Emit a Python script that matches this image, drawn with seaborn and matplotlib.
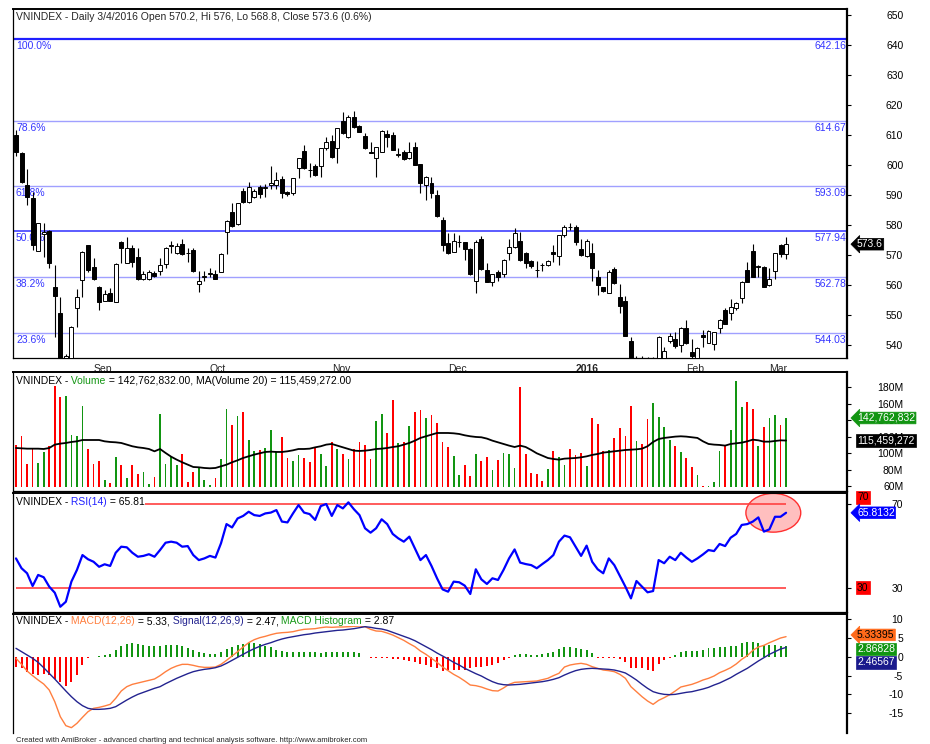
import numpy as np
import pandas as pd
import seaborn as sns
import matplotlib.pyplot as plt
from matplotlib.patches import Ellipse

# ---------------- data ----------------
holidays = ['2015-09-02', '2016-01-01', '2016-02-05', '2016-02-08', '2016-02-09',
            '2016-02-10', '2016-02-11', '2016-02-12']
dates = pd.bdate_range('2015-08-12', '2016-03-04')
dates = dates[~dates.isin(pd.to_datetime(holidays))]

opens = [610.0, 603.9, 593.3, 588.9, 571.4, 577.0, 578.1, 559.4, 550.8, 529.0,
         533.0, 552.2, 561.7, 573.3, 565.9, 559.4, 554.8, 557.2, 554.4, 574.2,
         567.4, 572.4, 569.4, 562.1, 562.0, 564.1, 564.8, 567.0, 573.0, 570.6,
         573.7, 570.8, 571.7, 560.2, 562.6, 563.7, 563.6, 564.4, 577.8, 584.2,
         580.2, 591.3, 587.8, 589.4, 592.6, 592.2, 593.5, 593.3, 595.3, 591.0,
         590.6, 598.9, 604.8, 598.5, 599.8, 599.7, 605.8, 608.1, 605.6, 614.8,
         609.4, 615.9, 613.0, 609.7, 604.3, 602.2, 604.4, 610.3, 610.0, 603.4,
         604.4, 602.2, 606.1, 600.2, 593.3, 594.0, 590.0, 581.7, 573.9, 571.1,
         574.3, 574.2, 572.0, 561.3, 575.2, 565.0, 561.1, 564.4, 563.6, 570.6,
         572.8, 574.8, 570.8, 568.1, 565.1, 566.8, 566.7, 571.1, 569.7, 576.7,
         579.5, 579.2, 571.9, 569.7, 570.8, 562.6, 559.2, 557.4, 565.2, 556.1,
         554.7, 541.5, 531.0, 534.0, 530.0, 526.0, 530.0, 535.0, 541.3, 541.9,
         540.0, 545.6, 537.8, 535.5, 543.3, 540.8, 540.2, 545.8, 551.7, 550.8,
         552.2, 555.6, 565.0, 571.4, 565.9, 566.1, 560.0, 564.8, 573.3, 570.2]
highs = [611.7, 604.5, 598.6, 591.1, 580.8, 580.6, 578.5, 566.7, 556.1, 537.0,
         546.3, 558.6, 571.3, 573.5, 568.9, 559.7, 558.3, 558.9, 567.2, 574.8,
         575.9, 573.3, 572.2, 564.7, 565.0, 564.8, 568.9, 572.8, 574.8, 573.9,
         575.2, 572.2, 572.2, 564.8, 564.8, 565.6, 565.0, 570.6, 581.7, 587.2,
         587.4, 592.2, 594.4, 592.0, 593.5, 593.7, 599.8, 597.8, 596.3, 591.5,
         595.8, 602.2, 606.7, 600.6, 600.5, 605.8, 609.4, 610.0, 612.4, 617.8,
         616.7, 618.0, 613.4, 610.8, 607.8, 606.0, 611.7, 611.7, 611.1, 605.6,
         605.0, 607.8, 607.8, 600.2, 596.5, 596.0, 591.7, 582.8, 577.4, 577.4,
         576.6, 574.5, 572.2, 575.0, 576.3, 567.4, 563.8, 565.0, 568.6, 575.2,
         578.9, 577.8, 571.1, 568.3, 568.0, 567.4, 568.2, 573.3, 576.7, 580.0,
         580.8, 580.0, 575.2, 575.2, 574.1, 565.0, 559.3, 565.0, 565.9, 560.3,
         556.3, 542.8, 536.2, 536.2, 536.0, 536.0, 543.0, 539.5, 543.9, 544.4,
         546.1, 548.3, 541.9, 539.5, 545.0, 545.0, 544.5, 548.6, 552.2, 555.2,
         554.4, 561.4, 567.8, 573.7, 566.6, 566.4, 565.6, 570.8, 573.7, 576.0]
lows = [603.0, 594.0, 586.7, 571.7, 571.2, 569.4, 565.6, 542.8, 527.0, 524.0,
        531.0, 546.1, 556.1, 564.4, 561.7, 551.7, 554.6, 554.6, 554.2, 567.2,
        567.2, 566.1, 561.7, 561.7, 561.7, 562.6, 563.3, 565.6, 570.8, 570.3,
        570.1, 567.8, 564.4, 557.8, 561.4, 562.8, 561.9, 564.2, 570.3, 579.4,
        580.0, 587.2, 587.5, 588.9, 589.0, 589.4, 592.0, 592.0, 589.0, 589.8,
        590.0, 595.6, 598.7, 596.1, 596.4, 596.1, 605.0, 602.2, 600.6, 610.5,
        608.9, 612.2, 611.0, 605.2, 603.9, 596.1, 604.3, 606.1, 605.0, 602.8,
        601.7, 601.9, 600.0, 590.6, 588.3, 589.0, 582.8, 571.4, 570.4, 571.1,
        572.8, 568.3, 563.5, 557.2, 565.0, 561.0, 559.7, 561.4, 562.8, 568.3,
        572.5, 568.1, 565.6, 565.6, 562.6, 564.8, 566.5, 567.8, 566.7, 576.1,
        578.3, 573.3, 569.7, 569.4, 561.4, 556.7, 557.8, 557.2, 560.5, 550.8,
        542.9, 530.0, 528.0, 527.0, 524.0, 524.0, 529.0, 533.0, 540.6, 538.9,
        537.8, 540.4, 535.8, 534.0, 539.4, 540.6, 538.3, 544.1, 547.0, 548.3,
        551.7, 554.1, 561.0, 562.8, 562.8, 559.2, 559.7, 561.9, 569.5, 568.8]
closes = [604.4, 594.4, 589.4, 573.3, 580.6, 577.8, 567.2, 556.3, 531.0, 536.3,
          546.1, 556.1, 571.1, 565.0, 561.9, 554.4, 556.9, 554.8, 567.0, 572.4,
          572.2, 567.8, 561.9, 563.6, 564.4, 563.0, 566.6, 572.2, 573.3, 573.1,
          570.3, 570.6, 564.8, 561.3, 562.9, 563.9, 562.1, 570.3, 581.4, 579.7,
          587.2, 587.8, 592.6, 591.4, 590.3, 592.8, 593.9, 595.0, 590.6, 590.5,
          595.6, 602.2, 598.9, 598.2, 596.7, 605.6, 607.6, 602.8, 612.2, 610.8,
          615.9, 612.8, 611.1, 605.6, 604.1, 605.9, 611.4, 609.4, 605.0, 603.6,
          601.9, 604.4, 600.0, 593.9, 596.1, 590.6, 583.0, 573.3, 570.6, 574.8,
          574.5, 571.9, 563.7, 574.4, 565.2, 561.1, 563.6, 562.6, 568.3, 572.8,
          577.4, 568.3, 567.2, 566.3, 565.0, 566.7, 568.0, 570.3, 576.7, 579.4,
          579.2, 574.4, 570.0, 574.8, 565.6, 560.0, 558.0, 564.4, 560.6, 553.0,
          543.0, 532.0, 534.0, 529.0, 526.0, 531.0, 542.8, 538.1, 543.0, 539.7,
          545.6, 540.6, 536.4, 539.1, 542.6, 544.8, 544.3, 548.3, 547.0, 552.8,
          554.1, 561.1, 561.1, 562.8, 566.3, 559.4, 561.9, 570.6, 570.3, 573.6]

# volume and its 20-day MA, in millions
volume_m = [110.5, 120.6, 87.0, 106.4, 88.3, 101.2, 108.5, 182.4, 167.8, 169.1,
            121.8, 120.6, 157.7, 105.6, 87.0, 90.3, 67.3, 64.0, 95.5, 85.4,
            70.1, 85.4, 74.9, 76.9, 63.2, 70.9, 148.1, 87.0, 95.1, 85.4,
            99.2, 65.2, 76.9, 83.0, 67.3, 61.2, 70.1, 93.1, 153.7, 134.7,
            144.8, 150.1, 116.5, 103.2, 104.4, 106.4, 127.9, 101.2, 119.8, 94.3,
            91.1, 97.5, 94.3, 89.1, 106.4, 99.6, 84.2, 113.7, 105.2, 99.2,
            93.1, 105.2, 113.7, 110.5, 93.1, 139.6, 148.1, 124.2, 165.0, 112.5,
            113.7, 132.7, 149.7, 152.1, 142.8, 146.0, 136.7, 113.7, 107.2, 97.1,
            73.5, 85.5, 72.9, 99.2, 90.3, 95.5, 80.2, 91.5, 100.4, 99.2,
            82.2, 180.4, 99.2, 76.1, 74.9, 66.8, 81.4, 103.2, 95.5, 85.4,
            105.2, 97.5, 100.0, 84.2, 142.8, 135.5, 102.4, 104.4, 118.6, 130.7,
            120.6, 157.7, 114.5, 111.3, 141.6, 161.0, 143.6, 131.5, 115.7, 109.3,
            101.2, 94.3, 83.4, 73.3, 60.5, 60.5, 65.2, 103.2, 110.5, 128.3,
            188.0, 155.7, 161.8, 153.7, 108.5, 131.5, 142.8, 146.8, 134.7, 142.762832]
vol_ma20_m = [106.4, 106.0, 105.6, 105.6, 105.6, 105.2, 106.4, 110.5, 111.7, 112.5,
              113.7, 114.5, 116.1, 116.1, 116.1, 116.1, 114.5, 113.7, 113.3, 112.5,
              110.5, 108.5, 107.2, 106.4, 105.2, 102.4, 105.2, 100.4, 95.9, 92.3,
              89.1, 86.2, 83.4, 83.0, 82.2, 81.8, 82.2, 84.2, 86.2, 89.1,
              91.5, 94.3, 96.3, 98.4, 100.0, 101.6, 102.0, 101.6, 101.6, 102.4,
              103.6, 105.2, 105.2, 105.6, 107.2, 108.5, 110.5, 111.3, 109.3, 107.2,
              105.2, 103.2, 102.8, 103.2, 104.0, 105.2, 105.6, 106.4, 107.6, 108.5,
              110.5, 112.5, 115.3, 118.6, 120.6, 122.6, 124.6, 124.6, 124.6, 124.2,
              123.4, 121.8, 120.6, 119.8, 119.4, 117.8, 115.3, 113.3, 111.3, 109.3,
              107.6, 109.3, 107.6, 104.0, 100.0, 97.1, 94.3, 93.1, 92.3, 93.5,
              93.9, 94.3, 95.1, 96.3, 98.0, 99.2, 100.8, 101.6, 102.4, 103.2,
              104.0, 104.4, 104.8, 105.6, 108.5, 113.7, 117.3, 118.6, 119.4, 120.2,
              120.6, 120.2, 119.4, 118.6, 114.5, 111.3, 110.5, 110.1, 109.3, 111.3,
              112.1, 112.9, 114.5, 116.5, 115.7, 114.1, 114.1, 114.9, 115.7, 115.459272]

rsi14 = [44.0, 39.3, 36.9, 30.8, 36.1, 35.0, 30.5, 27.6, 20.9, 23.3,
         32.9, 38.5, 45.6, 43.6, 42.4, 40.0, 41.2, 40.4, 46.7, 49.6,
         49.3, 46.7, 44.8, 45.2, 46.0, 44.8, 48.0, 51.5, 52.0, 51.5,
         49.6, 49.9, 45.6, 43.2, 44.0, 45.2, 44.4, 51.2, 60.4, 58.8,
         63.1, 64.3, 66.3, 64.7, 64.3, 65.5, 65.9, 67.1, 61.6, 61.2,
         65.5, 69.5, 65.9, 65.2, 62.4, 69.0, 70.0, 64.3, 69.5, 67.9,
         70.8, 67.5, 64.7, 58.4, 56.3, 58.4, 62.7, 60.4, 55.7, 53.6,
         52.0, 54.4, 48.8, 43.2, 45.6, 40.4, 34.5, 29.2, 28.1, 32.9,
         32.6, 31.0, 27.0, 38.8, 34.0, 31.8, 34.5, 33.7, 38.5, 44.0,
         48.3, 42.0, 41.3, 40.8, 39.3, 41.3, 43.2, 45.6, 52.0, 54.9,
         54.1, 49.6, 45.2, 50.1, 42.4, 38.8, 36.9, 44.0, 40.8, 35.6,
         30.5, 24.9, 33.2, 30.5, 27.8, 28.4, 43.2, 41.7, 44.8, 43.2,
         46.7, 44.4, 42.4, 44.0, 45.9, 48.0, 47.5, 50.9, 49.9, 53.9,
         55.7, 60.0, 60.4, 61.6, 63.6, 56.8, 57.9, 63.9, 63.9, 65.8132]

macd_line = [-0.43, -2.03, -3.80, -5.04, -6.20, -7.26, -8.86, -11.96, -15.95, -18.34,
             -18.87, -17.72, -16.12, -14.62, -13.73, -13.47, -13.11, -12.67, -11.07, -9.12,
             -7.97, -7.35, -6.99, -6.64, -6.28, -5.93, -5.04, -3.98, -3.09, -2.47,
             -2.03, -2.03, -2.30, -2.65, -2.83, -2.83, -2.74, -2.03, -0.97, 0.19,
             1.34, 2.58, 3.73, 4.53, 5.06, 5.42, 5.86, 6.22, 6.39, 6.48,
             6.66, 7.01, 7.28, 7.37, 7.46, 7.72, 7.90, 7.81, 7.90, 7.90,
             7.99, 8.08, 8.17, 7.99, 7.28, 6.84, 6.75, 6.30, 5.77, 5.06,
             4.35, 3.47, 2.67, 1.52, 0.63, -0.43, -1.50, -2.74, -3.71, -4.69,
             -5.49, -6.46, -7.53, -7.70, -8.06, -8.59, -9.03, -9.12, -8.32, -7.35,
             -6.82, -6.73, -6.64, -6.55, -6.46, -6.11, -5.75, -5.04, -4.42, -2.74,
             -2.21, -1.94, -1.76, -2.03, -2.65, -3.09, -3.54, -3.71, -3.98, -4.69,
             -5.75, -7.97, -9.30, -10.63, -11.78, -12.67, -11.60, -10.90, -10.10, -9.12,
             -8.06, -7.70, -7.35, -6.82, -6.20, -5.75, -5.13, -4.25, -3.63, -2.92,
             -1.94, -0.70, 0.27, 1.69, 2.58, 3.02, 3.73, 4.35, 4.97, 5.33395]
signal_line = [2.23, 1.34, 0.45, -0.43, -1.50, -2.92, -4.42, -5.93, -7.53, -9.12,
               -10.63, -11.96, -13.02, -13.73, -14.00, -14.00, -13.91, -13.73, -13.29, -12.40,
               -11.52, -10.72, -10.01, -9.48, -8.94, -8.41, -7.97, -7.17, -6.46, -5.75,
               -5.13, -4.51, -3.98, -3.63, -3.36, -3.18, -2.92, -2.47, -1.76, -0.97,
               -0.17, 0.63, 1.43, 2.14, 2.76, 3.29, 3.73, 4.26, 4.71, 5.06,
               5.33, 5.59, 5.86, 6.04, 6.30, 6.48, 6.66, 6.84, 7.01, 7.10,
               7.28, 7.46, 7.72, 7.99, 7.81, 7.54, 7.37, 7.01, 6.48, 5.95,
               5.42, 4.89, 4.26, 3.47, 2.67, 1.87, 0.98, 0.19, -0.61, -1.50,
               -2.21, -3.09, -3.80, -4.51, -5.13, -5.93, -6.64, -7.17, -7.44, -7.53,
               -7.44, -7.35, -7.17, -6.99, -6.82, -6.64, -6.37, -6.02, -5.58, -4.87,
               -4.25, -3.71, -3.36, -3.18, -3.09, -3.18, -3.27, -3.36, -3.54, -3.89,
               -4.33, -5.22, -6.20, -7.35, -8.41, -9.30, -9.74, -10.01, -10.10, -10.01,
               -9.74, -9.48, -9.30, -8.94, -8.59, -8.15, -7.53, -6.99, -6.28, -5.58,
               -4.69, -3.89, -3.09, -2.12, -1.14, -0.26, 0.63, 1.34, 2.05, 2.46567]
macd_hist = [-2.65, -3.09, -3.98, -4.69, -4.87, -4.69, -4.87, -5.93, -6.82, -7.70,
             -6.64, -4.87, -2.21, -0.43, -0.08, 0.27, 0.45, 0.72, 1.78, 2.93,
             3.47, 3.56, 3.38, 3.11, 2.93, 2.76, 2.85, 3.11, 3.11, 3.02,
             2.76, 2.40, 1.78, 1.34, 0.98, 0.72, 0.81, 1.25, 1.96, 2.58,
             3.02, 3.29, 3.56, 3.56, 3.29, 2.93, 2.49, 1.87, 1.43, 1.34,
             1.34, 1.25, 1.25, 1.34, 1.16, 1.07, 1.16, 1.16, 1.34, 1.34,
             1.34, 1.34, 0.98, 0.0, -0.26, -0.26, -0.26, -0.43, -0.52, -0.61,
             -0.88, -1.14, -1.50, -1.94, -2.21, -2.65, -3.09, -3.80, -3.63, -3.54,
             -3.54, -3.54, -3.09, -2.74, -2.65, -2.47, -2.21, -1.76, -0.88, -0.26,
             0.45, 0.63, 0.63, 0.45, 0.45, 0.63, 0.90, 1.34, 1.96, 2.67,
             2.67, 2.23, 1.96, 1.78, 0.90, -0.26, -0.26, -0.26, -0.26, -0.61,
             -1.50, -3.09, -3.09, -3.09, -3.54, -3.80, -2.03, -0.88, -0.26, 0.45,
             1.34, 1.52, 1.52, 1.60, 1.78, 2.23, 2.40, 2.67, 2.67, 2.76,
             2.93, 3.56, 3.82, 3.82, 3.56, 3.11, 3.11, 3.11, 2.93, 2.86828]

fib_pct = ['100.0%', '78.6%', '61.8%', '50.0%', '38.2%', '23.6%']
fib_level = [642.16, 614.67, 593.09, 577.94, 562.78, 544.03]

# ---------------- style ----------------
sns.set_style('white')
plt.rcParams['font.family'] = ['Liberation Sans', 'DejaVu Sans']
plt.rcParams['axes.unicode_minus'] = False

UP_GREEN = '#129512'
DOWN_RED = '#ff0000'
FS = 7.5

idx = np.arange(len(closes))
o, h, l, c = (np.array(a) for a in (opens, highs, lows, closes))
up = c > o

fig = plt.figure(figsize=(9.3, 7.44), dpi=100)
L, W = 13 / 930, 834 / 930
ax_p = fig.add_axes([L, 1 - 358 / 744, W, 349 / 744])
ax_v = fig.add_axes([L, 1 - 491 / 744, W, 119 / 744])
ax_r = fig.add_axes([L, 1 - 612 / 744, W, 119 / 744])
ax_m = fig.add_axes([L, 1 - 733 / 744, W, 119 / 744])

for ax in (ax_p, ax_v, ax_r, ax_m):
    ax.set_xlim(-0.54, 150)
    ax.yaxis.tick_right()
    ax.tick_params(axis='y', direction='out', length=3, width=0.8, pad=37.5,
                   labelsize=FS, colors='black')
    for s in ax.spines.values():
        s.set_linewidth(0.9)
        s.set_color('black')
    ax.spines['right'].set_linewidth(1.6)
    ax.spines['top'].set_linewidth(1.4)
    if ax is not ax_p:
        ax.set_xticks([])


def right_align(ax):
    for t in ax.get_yticklabels():
        t.set_horizontalalignment('right')


def title_chain(ax, pieces, dy):
    prev = None
    for txt, col in pieces:
        kw = dict(ha='left', va='center', color=col, fontsize=FS, zorder=6,
                  bbox=dict(fc='white', ec='none', pad=0.3))
        if prev is None:
            prev = ax.annotate(txt, xy=(0, 1), xycoords='axes fraction', xytext=(3, -dy),
                               textcoords='offset pixels', **kw)
        else:
            prev = ax.annotate(txt, xy=(1, 0.5), xycoords=prev, **kw)


def side_label(ax, y, txt, fc, tc='white', arrow=False):
    style = 'larrow,pad=0.08' if arrow else 'square,pad=0.12'
    ax.annotate(txt, xy=(1, y), xycoords=('axes fraction', 'data'),
                xytext=(10, 0), textcoords='offset pixels', ha='left', va='center',
                fontsize=FS, color=tc, zorder=10, annotation_clip=False,
                bbox=dict(boxstyle=style, fc=fc, ec=fc, lw=0.5))


# ---------------- price panel ----------------
fib_colors = ['#2020ff', '#a0a0ff', '#a0a0ff', '#4040ff', '#a0a0ff', '#a0a0ff']
fib_widths = [1.6, 1.0, 1.0, 1.2, 1.0, 1.0]
for pct, lvl, fc_, lw_ in zip(fib_pct, fib_level, fib_colors, fib_widths):
    ax_p.axhline(lvl, color=fc_, lw=lw_, zorder=1)
    ax_p.annotate(pct, xy=(0, lvl), xycoords=('axes fraction', 'data'), xytext=(3, -2),
                  textcoords='offset pixels', ha='left', va='top', color='#3535ff',
                  fontsize=FS, zorder=1.5)
    ax_p.annotate(f'{lvl:.2f}', xy=(1, lvl), xycoords=('axes fraction', 'data'),
                  xytext=(-1, -2), textcoords='offset pixels', ha='right', va='top',
                  color='#3535ff', fontsize=FS, zorder=1.5)

ax_p.vlines(idx, l, h, color='black', linewidth=0.8, zorder=2)
ax_p.bar(idx, np.abs(c - o), bottom=np.minimum(o, c), width=0.72,
         color=np.where(up, 'white', 'black'), edgecolor='black', linewidth=0.7, zorder=3)
ax_p.set_ylim(535.67, 652)
ax_p.set_yticks(range(540, 651, 10))
right_align(ax_p)

month_pos = [i for i in range(1, len(dates)) if dates[i].month != dates[i - 1].month]
month_lbl = ['2016' if dates[i].month == 1 else dates[i].strftime('%b') for i in month_pos]
ax_p.set_xticks(month_pos, month_lbl)
ax_p.tick_params(axis='x', direction='out', length=4, width=0.8, pad=0, labelsize=FS)
for t in ax_p.get_xticklabels():
    t.set_horizontalalignment('left')
    if t.get_text() == '2016':
        t.set_fontweight('bold')

ax_p.annotate(f'VNINDEX - Daily {dates[-1].month}/{dates[-1].day}/{dates[-1].year} '
              f'Open {opens[-1]:g}, Hi {highs[-1]:g}, Lo {lows[-1]:g}, Close {closes[-1]:g} '
              f'({(closes[-1] / closes[-2] - 1) * 100:.1f}%)',
              xy=(0, 1), xycoords='axes fraction', xytext=(3, -8), textcoords='offset pixels',
              ha='left', va='center', fontsize=FS, zorder=6)
side_label(ax_p, closes[-1], f'{closes[-1]:g}', 'black', arrow=True)

# ---------------- volume panel ----------------
vol = np.array(volume_m)
ax_v.bar(idx, vol - 59, bottom=59, width=0.32,
         color=np.where(up, UP_GREEN, DOWN_RED), linewidth=0)
sns.lineplot(x=idx, y=vol_ma20_m, ax=ax_v, color='black', linewidth=1.3)
ax_v.set_ylim(54.3, 198.5)
ax_v.set_yticks(range(60, 181, 20), [f'{v}M' for v in range(60, 181, 20)])
right_align(ax_v)
title_chain(ax_v, [('VNINDEX -', 'black'), (' Volume', UP_GREEN),
                   (f' = {volume_m[-1] * 1e6:,.2f}, MA(Volume 20) = {vol_ma20_m[-1] * 1e6:,.2f}',
                    'black')], 8.7)
side_label(ax_v, volume_m[-1], f'{volume_m[-1] * 1e6:,.0f}', UP_GREEN, arrow=True)
side_label(ax_v, vol_ma20_m[-1], f'{vol_ma20_m[-1] * 1e6:,.0f}', 'black')

# ---------------- RSI panel ----------------
ax_r.add_patch(Ellipse((136.7, 65.8), 9.9, 18.5, fc=(1, 0.45, 0.45, 0.45),
                       ec='#ff3030', lw=1, zorder=1))
ax_r.hlines([70, 30], 0, idx[-1], color='#ff4040', lw=1.2, zorder=1.5)
sns.lineplot(x=idx, y=rsi14, ax=ax_r, color='#0000ff', linewidth=1.6, zorder=3)
ax_r.set_ylim(18.39, 75.26)
ax_r.set_yticks([30, 70])
right_align(ax_r)
title_chain(ax_r, [('VNINDEX -', 'black'), (' RSI(14)', '#2020ff'),
                   (f' = {rsi14[-1]:.2f}', 'black')], 8.7)
side_label(ax_r, 73.2, '70', '#ff0000', tc='black')
side_label(ax_r, 30, '30', '#ff0000', tc='black')
side_label(ax_r, rsi14[-1], f'{rsi14[-1]:.4f}', '#0000ff', arrow=True)

# ---------------- MACD panel ----------------
hist = np.array(macd_hist)
ax_m.bar(idx, hist, width=0.36, color=np.where(hist >= 0, UP_GREEN, DOWN_RED), linewidth=0)
sns.lineplot(x=idx, y=macd_line, ax=ax_m, color='#ff7f3f', linewidth=1.0)
sns.lineplot(x=idx, y=signal_line, ax=ax_m, color='#23238f', linewidth=1.0)
ax_m.set_ylim(-20.29, 11.36)
ax_m.set_yticks([10, 5, 0, -5, -10, -15], ['10', '5', '0', '-5', '-10', '-15'])
right_align(ax_m)
ax_m.spines['bottom'].set_visible(False)
title_chain(ax_m, [('VNINDEX -', 'black'), (' MACD(12,26)', '#ff7f3f'),
                   (f' = {macd_line[-1]:.2f},', 'black'), (' Signal(12,26,9)', '#23238f'),
                   (f' = {signal_line[-1]:.2f},', 'black'), (' MACD Histogram', '#1a9a1a'),
                   (f' = {macd_hist[-1]:.2f}', 'black')], 7)
# label boxes are stacked by the charting tool so they don't overlap
side_label(ax_m, 5.8, f'{macd_line[-1]:.5f}', '#ff6a1a', tc='black', arrow=True)
side_label(ax_m, 2.05, f'{macd_hist[-1]:.5f}', UP_GREEN)
side_label(ax_m, -1.5, f'{signal_line[-1]:.5f}', '#1a1a8c')

for ax in (ax_v, ax_r, ax_m):
    ax.set_xlabel('')
    ax.set_ylabel('')

fig.text(16 / 930, 1 - 740 / 744,
         'Created with AmiBroker - advanced charting and technical analysis software. '
         'http://www.amibroker.com', fontsize=5.5, va='center', ha='left')

fig.savefig('out.png', dpi=100)
